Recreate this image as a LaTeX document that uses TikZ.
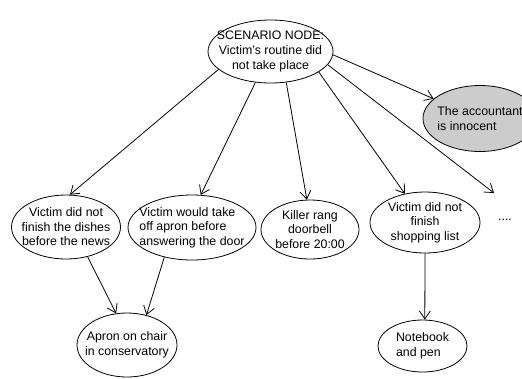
\documentclass[tikz,border=0pt]{standalone}
\usepackage{fontspec}
\setmainfont{Liberation Sans}
\usepackage{tikz}
\usetikzlibrary{shapes.geometric,arrows.meta}
\definecolor{shade}{RGB}{204,204,204}

\begin{document}
\begin{tikzpicture}[x=1bp, y=-1bp, line width=0.8pt, font=\fontsize{12.4}{14.6}\selectfont,
		>={Straight Barb[length=8bp,width=11bp]},
		event/.style={draw, ellipse, align=center, inner sep=-50pt}]
				\useasboundingbox (0,0) rectangle (522,378);
				\node[event, minimum width=125bp, minimum height=63bp] (scenario) at (270.5,51.5) {SCENARIO NODE:\\Victim's routine did\\not take place};
				\node[event, fill=shade, align=left, minimum width=114bp, minimum height=66bp] (accountant) at (480,118.5) {The accountant\\is innocent};
				\node[event, minimum width=109bp, minimum height=64bp] (dishes) at (66,227) {Victim did not\\finish the dishes\\before the news};
				\node[event, align=left, minimum width=128bp, minimum height=65bp] (apron) at (192,227.5) {Victim would take\\off apron before\\answering the door};
				\node[event, minimum width=98bp, minimum height=59bp] (killer) at (310,229.5) {Killer rang\\doorbell\\before 20:00};
				\node[event, minimum width=110bp, minimum height=61bp] (shopping) at (425,222.5) {Victim did not\\finish\\shopping list};
				\node (dots) at (505,220) {....};
				\coordinate (more) at (494,193);
				\node[event, minimum width=100bp, minimum height=64bp] (chair) at (127,345) {Apron on chair\\in conservatory};
				\node[event, align=left, minimum width=89bp, minimum height=52bp] (notebook) at (422.5,346) {Notebook\\and pen};
				
				\draw[->] (scenario.199) -- (dishes.83);
				\draw[->] (scenario.244) -- (apron.75);
				\draw[->] (scenario.297) -- (killer.96);
				\draw[->] (scenario.337) -- (shopping.125);
				\draw[->] (scenario.347) -- (more);
				\draw[->] (scenario.357) -- (accountant.157);
				\draw[->] (dishes.306) -- (chair.109);
				\draw[->] (apron.227) -- (chair.57);
				\draw[->] (shopping.270) -- (notebook.85);
			\end{tikzpicture}
\end{document}
